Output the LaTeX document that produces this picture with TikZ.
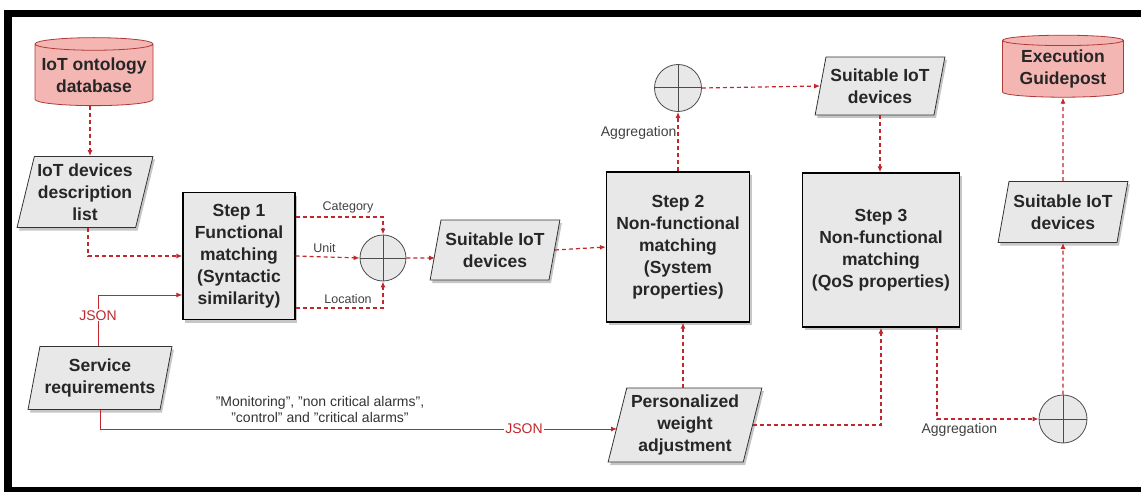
\documentclass[tikz,border=0pt]{standalone}
\usepackage{fontspec}
\setmainfont{Liberation Sans}
\usetikzlibrary{shapes.geometric,arrows.meta,shadows}
\definecolor{linkred}{HTML}{C0282D}
\definecolor{dbpink}{HTML}{F4B6B2}
\definecolor{dbedge}{HTML}{B03A3A}
\definecolor{boxgray}{HTML}{E8E8E8}

\begin{document}
\begin{tikzpicture}[x=1pt,y=-1pt,
    boxtext/.style={font=\fontsize{17.5}{22}\selectfont\bfseries, text=black!85, align=center},
    db/.style={boxtext, cylinder, shape border rotate=90, aspect=0.12, draw=dbedge, fill=dbpink, line width=0.8pt, inner sep=0pt},
    stepbox/.style={boxtext, rectangle, draw=black, fill=boxgray, line width=1.2pt, inner sep=0pt,
        drop shadow={opacity=0.45, shadow xshift=2pt, shadow yshift=-3pt}},
    datapara/.style={boxtext, trapezium, trapezium left angle=74, trapezium right angle=106, trapezium stretches=true,
        draw=black!80, fill=boxgray, line width=0.8pt, inner sep=0pt,
        drop shadow={opacity=0.45, shadow xshift=2pt, shadow yshift=-3pt}},
    aggr/.style={circle, draw=black!70, fill=boxgray, line width=0.8pt, minimum size=46pt, inner sep=0pt,
        path picture={\draw[line width=1pt] (path picture bounding box.north) -- (path picture bounding box.south)
            (path picture bounding box.west) -- (path picture bounding box.east);}},
    flow/.style={draw=linkred, line width=1.2pt, dash pattern=on 4pt off 3pt, -{Latex[length=6pt,width=5pt]}},
    req/.style={draw=linkred, line width=1pt, -{Latex[length=6pt,width=5pt]}},
    small/.style={font=\fontsize{12.5}{14}\selectfont, text=black!75},
]

\useasboundingbox (0,0) rectangle (1141,492);
\fill (4,10) rectangle (1141,17);
\fill (4,10) rectangle (12,492);
\fill (4,487) rectangle (1141,492);

\node[db, minimum width=118pt, minimum height=68pt] (ontodb) at (94,75) {IoT ontology\\database};
\node[datapara, minimum width=136pt, minimum height=71pt] (desclist) at (85,192) {IoT devices\\description\\list};
\node[stepbox, minimum width=112pt, minimum height=127pt] (step1) at (239,256) {Step 1\\Functional\\matching\\(Syntactic\\similarity)};
\node[aggr] (sum1) at (383,258) {};
\node[datapara, minimum width=130pt, minimum height=60pt] (suit1) at (495,250) {Suitable IoT\\devices};
\node[stepbox, minimum width=143pt, minimum height=150pt] (step2) at (678,247) {Step 2\\Non-functional\\matching\\(System\\properties)};
\node[aggr, minimum size=47pt] (sum2) at (678,88) {};
\node[datapara, minimum width=130pt, minimum height=58pt] (suit2) at (880,86) {Suitable IoT\\devices};
\node[stepbox, minimum width=157pt, minimum height=154pt] (step3) at (881,250) {Step 3\\Non-functional\\matching\\(QoS properties)};
\node[datapara, minimum width=154pt, minimum height=74pt] (weight) at (685,425) {Personalized\\weight\\adjustment};
\node[aggr, minimum size=48pt] (sum3) at (1063,419) {};
\node[datapara, minimum width=130pt, minimum height=61pt] (suit3) at (1063,212) {Suitable IoT\\devices};
\node[db, minimum width=121pt, minimum height=62pt] (guidedb) at (1063,69) {Execution\\Guidepost};
\node[datapara, minimum width=144pt, minimum height=63pt] (servreq) at (100,378) {Service\\requirements};

\draw[flow] ([xshift=-4pt]ontodb.south) -- ([xshift=-4pt]ontodb.south |- desclist.north);
\draw[flow] ([xshift=3pt]desclist.south) |- (step1.west);
\draw[flow] ([yshift=39pt]step1.east) -| node[small, pos=0.3, above] {Category} (sum1.north);
\draw[flow] (step1.east) -- node[small, above, pos=0.45] {Unit} (sum1.west);
\draw[flow] ([yshift=-52pt]step1.east) -| node[small, pos=0.3, above] {Location} (sum1.south);
\draw[flow] (sum1.east) -- ([yshift=-8pt]suit1.west);
\draw[flow] (suit1.east) -- (step2.west);
\draw[flow] (step2.north) -- node[small, font=\fontsize{14}{16}\selectfont, pos=0.65, left, inner sep=1pt] {Aggregation} (sum2.south);
\draw[flow] (sum2.east) -- (suit2.west);
\draw[flow] (suit2.south) -- (suit2.south |- step3.north);
\draw[flow] ([xshift=-2pt]weight.north) -- ([xshift=-2pt]weight.north |- step2.south);
\draw[flow] (weight.east) -| (step3.south);
\draw[flow] ([xshift=56pt]step3.south) |- node[small, font=\fontsize{14}{16}\selectfont, pos=0.61, below] {Aggregation} (sum3.west);
\draw[flow] (sum3.north) -- (suit3.south);
\draw[flow] (suit3.north) -- (guidedb.south);

\draw[req] ([xshift=-2pt]servreq.north) |- node[pos=0.3, fill=white, inner sep=1pt, text=linkred, font=\fontsize{14}{16}\selectfont] {JSON} ([yshift=-39pt]step1.west);
\draw[req] (servreq.south) |- node[pos=0.91, fill=white, inner sep=1pt, text=linkred, font=\fontsize{14}{16}\selectfont] {JSON} ([yshift=-4pt]weight.west);
\node[small, font=\fontsize{14}{16}\selectfont, align=center, text=black!80] (usage) at (320,409) {"Monitoring", "non critical alarms",\\"control" and "critical alarms"};

\end{tikzpicture}
\end{document}
